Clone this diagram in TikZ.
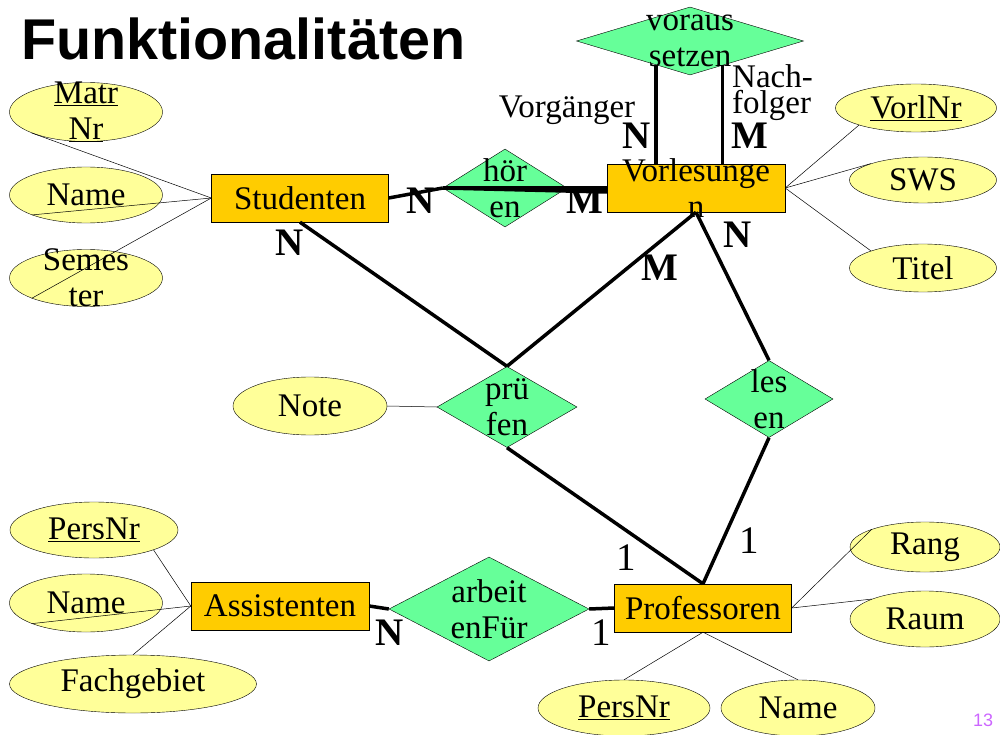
\documentclass[tikz,border=0pt]{standalone}
\usepackage{fontspec}
\setmainfont{Liberation Serif}
\newfontfamily\titlefont{Liberation Sans}
\usepackage{tikz}
\usetikzlibrary{shapes.geometric, positioning}
\definecolor{entityorange}{HTML}{FFCC00}
\definecolor{relgreen}{HTML}{66FF99}
\definecolor{attryellow}{HTML}{FFFF99}
\definecolor{pagenum}{HTML}{CC66FF}
\newcommand{\erfont}{\fontsize{33}{36}\selectfont}
\newcommand{\cardfont}{\fontsize{39}{44}\selectfont}
\newcommand{\key}[1]{\underline{#1}}

\tikzset{
  entity/.style={rectangle, draw, fill=entityorange, inner sep=0pt, minimum width=177pt, minimum height=48pt, font=\erfont},
  relship/.style={diamond, draw, fill=relgreen, inner sep=0pt},
  attrib/.style={ellipse, draw, fill=attryellow, inner sep=0pt, minimum width=153pt, minimum height=57pt, font=\erfont},
  every label/.style={align=center, font=\erfont, inner sep=0pt},
  card/.style={font=\cardfont\bfseries, inner sep=0pt},
  onecard/.style={font=\cardfont, inner sep=0pt},
  conn/.style={line width=3.5pt},
  attline/.style={line width=0.5pt},
}

\begin{document}
\begin{tikzpicture}[x=1pt, y=-1pt]
    \useasboundingbox (0,0) rectangle (1000,735);
    \node (title) at (21,60) [anchor=base west, inner sep=0pt, font=\titlefont\bfseries\fontsize{57.5}{60}\selectfont] {Funktionalitäten};

    \node (studenten)   at (300,198) [entity] {Studenten};
    \node (vorlesungen) at (696,188) [entity, minimum width=178pt, label={center:Vorlesunge\\n}] {};
    \node (assistenten) at (280,606) [entity, minimum width=178pt] {Assistenten};
    \node (professoren) at (703,608) [entity] {Professoren};

    \node (hoeren)   at (505,188) [relship, minimum width=124pt, minimum height=78pt, label={center:hör\\en}] {};
    \node (voraus)   at (690,41)  [relship, minimum width=227pt, minimum height=68pt, label={center:voraus\\setzen}] {};
    \node (pruefen)  at (507,407) [relship, minimum width=140pt, minimum height=81pt, label={center:prü\\fen}] {};
    \node (lesen)    at (769,399) [relship, minimum width=128pt, minimum height=77pt, label={center:les\\en}] {};
    \node (arbeitet) at (489,609) [relship, minimum width=200pt, minimum height=104pt, label={center:arbeit\\enFür}] {};

    \node (matrnr)     at (86,112)  [attrib, minimum height=59pt, label={center:\key{Matr}\\\key{Nr}}] {};
    \node (sname)      at (86,195)  [attrib, minimum height=56pt] {Name};
    \node (semester)   at (86,278)  [attrib, label={center:Semes\\ter}] {};
    \node (vorlnr)     at (916,108) [attrib, minimum width=161pt, minimum height=48pt] {\key{VorlNr}};
    \node (sws)        at (923,180) [attrib, minimum width=147pt, minimum height=46pt] {SWS};
    \node (titel)      at (923,268) [attrib, minimum width=147pt, minimum height=48pt] {Titel};
    \node (note)       at (310,406) [attrib, minimum width=154pt, minimum height=58pt] {Note};
    \node (apersnr)    at (94,530)  [attrib, minimum width=168pt, minimum height=56pt] {\key{PersNr}};
    \node (aname)      at (86,603)  [attrib, minimum height=58pt] {Name};
    \node (fachgebiet) at (133,684) [attrib, minimum width=247pt, minimum height=58pt] {Fachgebiet};
    \node (rang)       at (925,547) [attrib, minimum width=150pt, minimum height=50pt] {Rang};
    \node (raum)       at (925,619) [attrib, minimum width=150pt, minimum height=56pt] {Raum};
    \node (ppersnr)    at (624,708) [attrib, minimum width=172pt, minimum height=56pt] {\key{PersNr}};
    \node (pname)      at (798,708) [attrib, minimum width=154pt, minimum height=56pt] {Name};

    \draw[attline] (studenten.west) -- (matrnr.south west);
    \draw[attline] (studenten.west) -- (sname.south west);
    \draw[attline] (studenten.west) -- (semester.south west);
    \draw[attline] (vorlesungen.east) -- (vorlnr.south west);
    \draw[attline] (vorlesungen.east) -- (sws.north west);
    \draw[attline] (vorlesungen.east) -- (titel.north west);
    \draw[attline] (note.east) -- (pruefen.west);
    \draw[attline] (assistenten.west) -- (apersnr.south east);
    \draw[attline] (assistenten.west) -- (aname.south west);
    \draw[attline] (assistenten.west) -- (fachgebiet.north);
    \draw[attline] (professoren.east) -- (rang.north west);
    \draw[attline] (professoren.east) -- (raum.north west);
    \draw[attline] (professoren.south) -- (ppersnr.north);
    \draw[attline] (professoren.south) -- (pname.north);

    \draw[conn] (studenten.east) -- (hoeren.west);
    \draw[conn] (hoeren.west) -- (vorlesungen.west);
    \draw[conn] (hoeren.west) -- ([yshift=-4pt]vorlesungen.west);
    \draw[conn] (voraus.215) -- (voraus.215 |- vorlesungen.north);
    \draw[conn] (voraus.323) -- (voraus.323 |- vorlesungen.north);
    \draw[conn] (studenten.south) -- (pruefen.north);
    \draw[conn] (vorlesungen.south) -- (pruefen.north);
    \draw[conn] (vorlesungen.south) -- (lesen.north);
    \draw[conn] (pruefen.south) -- (professoren.north);
    \draw[conn] (lesen.south) -- (professoren.north);
    \draw[conn] (assistenten.east) -- (arbeitet.west);
    \draw[conn] (arbeitet.east) -- (professoren.west);

    \node (vorgaenger) at (567,118) [anchor=base, inner sep=0pt, font=\erfont] {Vorgänger};
    \node (nachfolger) at (732,64)  [anchor=north west, align=left, inner sep=0pt, font=\fontsize{33}{26}\selectfont] {Nach-\\folger};

    \node (hoerenN)   at (421,201) [card] {N};
    \node (hoerenM)   at (585,201) [card] {M};
    \node (vorausN)   at (637,136) [card] {N};
    \node (vorausM)   at (750,136) [card] {M};
    \node (pruefenN)  at (290,243) [card] {N};
    \node (pruefenM)  at (660,268) [card] {M};
    \node (lesenN)    at (738,235) [card] {N};
    \node (pruefen1)  at (626,558) [onecard] {1};
    \node (lesen1)    at (749,541) [onecard] {1};
    \node (arbeitetN) at (390,633) [card] {N};
    \node (arbeitet1) at (601,633) [onecard] {1};

    \node (pagenr) at (983,720) [text=pagenum, font=\titlefont\fontsize{18}{20}\selectfont] {13};
\end{tikzpicture}
\end{document}
